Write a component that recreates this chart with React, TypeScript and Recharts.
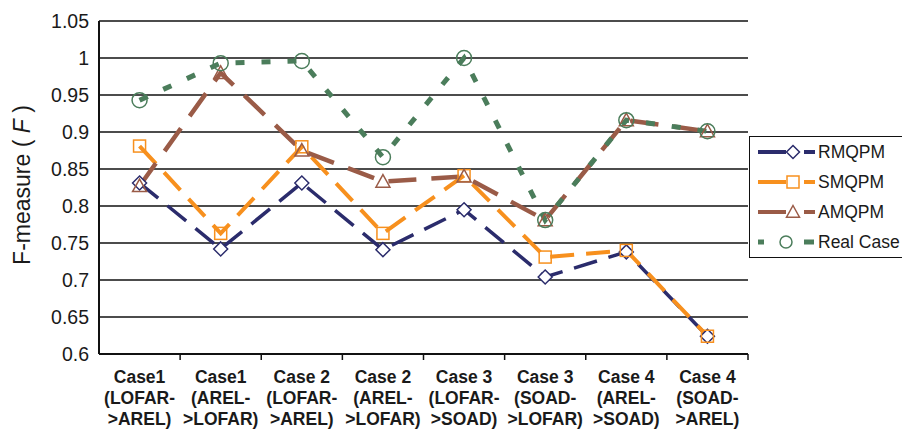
import React from 'react';
import { LineChart, Line, XAxis, YAxis, CartesianGrid } from 'recharts';

const categories = [
  ['Case1', '(LOFAR-', '>AREL)'],
  ['Case1', '(AREL-', '>LOFAR)'],
  ['Case 2', '(LOFAR-', '>AREL)'],
  ['Case 2', '(AREL-', '>LOFAR)'],
  ['Case 3', '(LOFAR-', '>SOAD)'],
  ['Case 3', '(SOAD-', '>LOFAR)'],
  ['Case 4', '(AREL-', '>SOAD)'],
  ['Case 4', '(SOAD-', '>AREL)'],
];
const rmqpm = [0.831, 0.742, 0.831, 0.741, 0.795, 0.704, 0.738, 0.624];
const smqpm = [0.881, 0.763, 0.88, 0.763, 0.841, 0.731, 0.74, 0.624];
const amqpm = [0.827, 0.98, 0.875, 0.833, 0.84, 0.781, 0.916, 0.901];
const realCase = [0.943, 0.993, 0.996, 0.866, 1.0, 0.781, 0.916, 0.901];
const yTicks = [0.6, 0.65, 0.7, 0.75, 0.8, 0.85, 0.9, 0.95, 1, 1.05];

const NAVY = '#2b2c6c';
const ORANGE = '#f7901e';
const BROWN = '#9a5b47';
const GREEN = '#4b7d5b';
const FONT = 'Arial, "Liberation Sans", Helvetica, sans-serif';

const data = categories.map((c, i) => ({
  key: c.join(' '),
  RMQPM: rmqpm[i],
  SMQPM: smqpm[i],
  AMQPM: amqpm[i],
  Real: realCase[i],
}));

const PLOT_LEFT = 99;
const PLOT_RIGHT = 748;
const BAND = (PLOT_RIGHT - PLOT_LEFT) / categories.length;

const Diamond = ({ cx, cy, s = 7 }: any) => (
  <path d={`M${cx},${cy - s}L${cx + s},${cy}L${cx},${cy + s}L${cx - s},${cy}Z`} fill="#fff" stroke={NAVY} strokeWidth={1.5} />
);
const Square = ({ cx, cy, s = 6 }: any) => (
  <rect x={cx - s} y={cy - s} width={s * 2} height={s * 2} fill="none" stroke={ORANGE} strokeWidth={1.5} />
);
const Triangle = ({ cx, cy, s = 7 }: any) => (
  <path d={`M${cx},${cy - s}L${cx + s},${cy + s * 0.8}L${cx - s},${cy + s * 0.8}Z`} fill="none" stroke={BROWN} strokeWidth={1.5} />
);
const Circle = ({ cx, cy, r = 7.5 }: any) => (
  <circle cx={cx} cy={cy} r={r} fill="none" stroke={GREEN} strokeWidth={1.5} />
);

const XTick = (props: any) => {
  const { x, y, index } = props;
  const lines = categories[index] || [];
  return (
    <g>
      <line x1={x + BAND / 2} x2={x + BAND / 2} y1={y - 8} y2={y - 2} stroke="#111" strokeWidth={1.5} />
      <text x={x} y={y + 21} textAnchor="middle" fontFamily={FONT} fontSize={17.5} fontWeight="bold" fill="#1a1a1a">
        {lines.map((l: string, i: number) => (
          <tspan key={i} x={x} dy={i === 0 ? 0 : 21}>{l}</tspan>
        ))}
      </text>
    </g>
  );
};

const LegendRow = ({ label, color, marker, dash }: any) => (
  <div style={{ height: 30, display: 'flex', alignItems: 'center' }}>
    <svg width={67} height={30}>
      {dash ? (
        <>
          <line x1={8} x2={14} y1={15} y2={15} stroke={color} strokeWidth={5} />
          <line x1={54} x2={64} y1={15} y2={15} stroke={color} strokeWidth={5} />
        </>
      ) : (
        <>
          <line x1={8} x2={36} y1={15} y2={15} stroke={color} strokeWidth={4} />
          <line x1={54} x2={65} y1={15} y2={15} stroke={color} strokeWidth={4} />
        </>
      )}
      {marker}
    </svg>
    <span style={{ fontFamily: FONT, fontSize: 17.5, color: '#1a1a1a', marginLeft: 1, whiteSpace: 'nowrap' }}>{label}</span>
  </div>
);

export default function App() {
  return (
    <div style={{ position: 'absolute', left: 0, top: 0, width: 902, height: 431, overflow: 'hidden', background: '#fff' }}>
      <LineChart width={902} height={431} data={data} margin={{ top: 21, right: 902 - PLOT_RIGHT, bottom: 0, left: PLOT_LEFT - 60 }}>
        <CartesianGrid vertical={false} stroke="#111" strokeWidth={1.5} />
        <XAxis
          dataKey="key"
          scale="band"
          interval={0}
          axisLine={{ stroke: '#111', strokeWidth: 2 }}
          tickLine={false}
          tick={<XTick />}
          height={77}
        />
        <YAxis
          width={60}
          domain={[0.6, 1.05]}
          ticks={yTicks}
          type="number"
          allowDataOverflow
          axisLine={{ stroke: '#111', strokeWidth: 2 }}
          tickLine={false}
          tickFormatter={(v: number) => String(v)}
          tick={{ fontFamily: FONT, fontSize: 19.5, fill: '#1a1a1a', dx: -2 }}
        />
        <Line dataKey="RMQPM" stroke={NAVY} strokeWidth={3.5} strokeDasharray="24 12" isAnimationActive={false}
          dot={(p: any) => <Diamond key={`d${p.index}`} cx={p.cx} cy={p.cy} />} />
        <Line dataKey="SMQPM" stroke={ORANGE} strokeWidth={4} strokeDasharray="24 12" isAnimationActive={false}
          dot={(p: any) => <Square key={`s${p.index}`} cx={p.cx} cy={p.cy} />} />
        <Line dataKey="AMQPM" stroke={BROWN} strokeWidth={4.5} strokeDasharray="28 15" isAnimationActive={false}
          dot={(p: any) => <Triangle key={`t${p.index}`} cx={p.cx} cy={p.cy} />} />
        <Line dataKey="Real" stroke={GREEN} strokeWidth={5} strokeDasharray="9 17" isAnimationActive={false}
          dot={(p: any) => <Circle key={`c${p.index}`} cx={p.cx} cy={p.cy} />} />
      </LineChart>
      <div style={{ position: 'absolute', left: 22, top: 185, transform: 'translate(-50%, -50%) rotate(-90deg)', whiteSpace: 'nowrap', fontFamily: FONT, fontSize: 23, color: '#1a1a1a' }}>
        F-measure ( <i>F</i> )
      </div>
      <div style={{ position: 'absolute', left: 749, top: 136, width: 220, height: 122, border: '1.5px solid #111', boxSizing: 'border-box', background: '#fff' }}>
        <LegendRow label="RMQPM" color={NAVY} marker={<Diamond cx={43} cy={15} s={6.5} />} />
        <LegendRow label="SMQPM" color={ORANGE} marker={<Square cx={43} cy={15} s={6} />} />
        <LegendRow label="AMQPM" color={BROWN} marker={<Triangle cx={43} cy={15} s={6.5} />} />
        <LegendRow label="Real Case" color={GREEN} dash marker={<Circle cx={36} cy={15} r={6} />} />
      </div>
    </div>
  );
}
